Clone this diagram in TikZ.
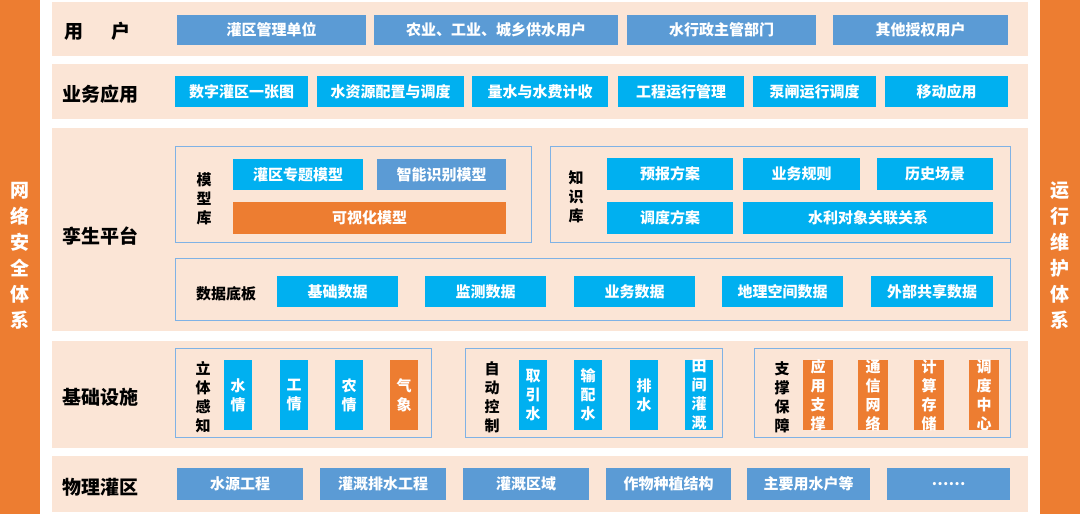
\documentclass[tikz,border=0pt]{standalone}
\usepackage{fontspec}
\setmainfont{Noto Sans CJK SC}
\definecolor{org}{HTML}{ED7D31}
\definecolor{peach}{HTML}{FBE5D6}
\definecolor{sb}{HTML}{5B9BD5}
\definecolor{cy}{HTML}{00B0F0}
\definecolor{pl}{HTML}{7FB2E5}
\begin{document}
\begin{tikzpicture}[x=1pt,y=-1pt,
 band/.style={fill=peach,draw=none},
 panel/.style={draw=pl,line width=0.8pt,fill=none},
 bx/.style={draw=none,inner sep=0pt,text=white,font=\fontsize{15}{19}\selectfont\bfseries},
 lab/.style={inner sep=0pt,font=\fontsize{19}{22}\selectfont\bfseries,anchor=west},
 vl/.style={inner sep=0pt,align=center,font=\fontsize{15}{19}\selectfont\bfseries},
 side/.style={inner sep=0pt,align=center,text=white,font=\fontsize{19}{26}\selectfont\bfseries}]
\useasboundingbox (0,0) rectangle (1080,514);
\fill[white] (0,0) rectangle (1080,514);
\def\B#1#2#3#4#5#6#7{\path[bx,fill=#1] (#2,#3) rectangle (#4,#5) node[bx,midway,align=center] (#6) {#7};}
% side bars
\fill[org] (0,0) rectangle (40,514);
\fill[org] (1040,0) rectangle (1080,514);
\node[side] (ls) at (20,256) {网\\络\\安\\全\\体\\系};
\node[side] (rs) at (1060,256) {运\\行\\维\\护\\体\\系};
% bands
\fill[band] (52,2) rectangle (1028,56);
\fill[band] (52,64) rectangle (1028,119);
\fill[band] (52,128) rectangle (1028,331);
\fill[band] (52,341) rectangle (1028,448);
\fill[band] (52,456) rectangle (1028,512);
\node[lab] (l1) at (64,31) {用\hspace{1.5em}户};
\node[lab] (l2) at (62,94) {业务应用};
\node[lab] (l3) at (62,236) {孪生平台};
\node[lab] (l4) at (62,397) {基础设施};
\node[lab] (l5) at (62,487) {物理灌区};
% users
\B{sb}{177}{15}{366}{45}{u1}{灌区管理单位}
\B{sb}{374}{15}{618}{45}{u2}{农业、工业、城乡供水用户}
\B{sb}{627}{15}{816}{45}{u3}{水行政主管部门}
\B{sb}{833}{15}{1008}{45}{u4}{其他授权用户}
% apps
\B{cy}{175}{76}{308}{107}{a1}{数字灌区一张图}
\B{cy}{317}{76}{464}{107}{a2}{水资源配置与调度}
\B{cy}{472}{76}{608}{107}{a3}{量水与水费计收}
\B{cy}{618}{76}{744}{107}{a4}{工程运行管理}
\B{cy}{753}{76}{876}{107}{a5}{泵闸运行调度}
\B{cy}{885}{76}{1008}{107}{a6}{移动应用}
% twin platform
\draw[panel] (175,146) rectangle (531,242);
\node[vl] (mk) at (204,199) {模\\型\\库};
\B{cy}{233}{159}{363}{190}{m1}{灌区专题模型}
\B{sb}{377}{159}{506}{190}{m2}{智能识别模型}
\B{org}{233}{202}{506}{234}{m3}{可视化模型}
\draw[panel] (550,146) rectangle (1010,242);
\node[vl] (zk) at (576,197) {知\\识\\库};
\B{cy}{607}{158}{733}{190}{k1}{预报方案}
\B{cy}{743}{158}{860}{190}{k2}{业务规则}
\B{cy}{877}{158}{993}{190}{k3}{历史场景}
\B{cy}{607}{202}{733}{234}{k4}{调度方案}
\B{cy}{743}{202}{993}{234}{k5}{水利对象关联关系}
\draw[panel] (175,258) rectangle (1010,320);
\node[vl] (db) at (226,294) {数据底板};
\B{cy}{277}{276}{398}{307}{d1}{基础数据}
\B{cy}{425}{276}{546}{307}{d2}{监测数据}
\B{cy}{574}{276}{695}{307}{d3}{业务数据}
\B{cy}{722}{276}{843}{307}{d4}{地理空间数据}
\B{cy}{871}{276}{993}{307}{d5}{外部共享数据}
% infrastructure
\draw[panel] (175,348) rectangle (431,437);
\node[vl] (p1) at (203,397) {立\\体\\感\\知};
\B{cy}{224}{360}{252}{430}{s1}{水\\情}
\B{cy}{280}{360}{308}{430}{s2}{工\\情}
\B{cy}{335}{360}{363}{430}{s3}{农\\情}
\B{org}{390}{360}{418}{430}{s4}{气\\象}
\draw[panel] (465,348) rectangle (722,437);
\node[vl] (p2) at (492,397) {自\\动\\控\\制};
\B{cy}{519}{360}{547}{430}{c1}{取\\引\\水}
\B{cy}{574}{360}{602}{430}{c2}{输\\配\\水}
\B{cy}{630}{360}{658}{430}{c3}{排\\水}
\B{cy}{685}{360}{713}{430}{c4}{田\\间\\灌\\溉}
\draw[panel] (754,348) rectangle (1010,437);
\node[vl] (p3) at (782,397) {支\\撑\\保\\障};
\B{org}{803}{360}{833}{430}{g1}{应\\用\\支\\撑}
\B{org}{858}{360}{888}{430}{g2}{通\\信\\网\\络}
\B{org}{914}{360}{944}{430}{g3}{计\\算\\存\\储}
\B{org}{969}{360}{999}{430}{g4}{调\\度\\中\\心}
% physical
\B{sb}{177}{468}{303}{500}{f1}{水源工程}
\B{sb}{320}{468}{446}{500}{f2}{灌溉排水工程}
\B{sb}{463}{468}{589}{500}{f3}{灌溉区域}
\B{sb}{606}{468}{731}{500}{f4}{作物种植结构}
\B{sb}{747}{468}{870}{500}{f5}{主要用水户等}
\B{sb}{887}{468}{1010}{500}{f6}{……}
\end{tikzpicture}
\end{document}
